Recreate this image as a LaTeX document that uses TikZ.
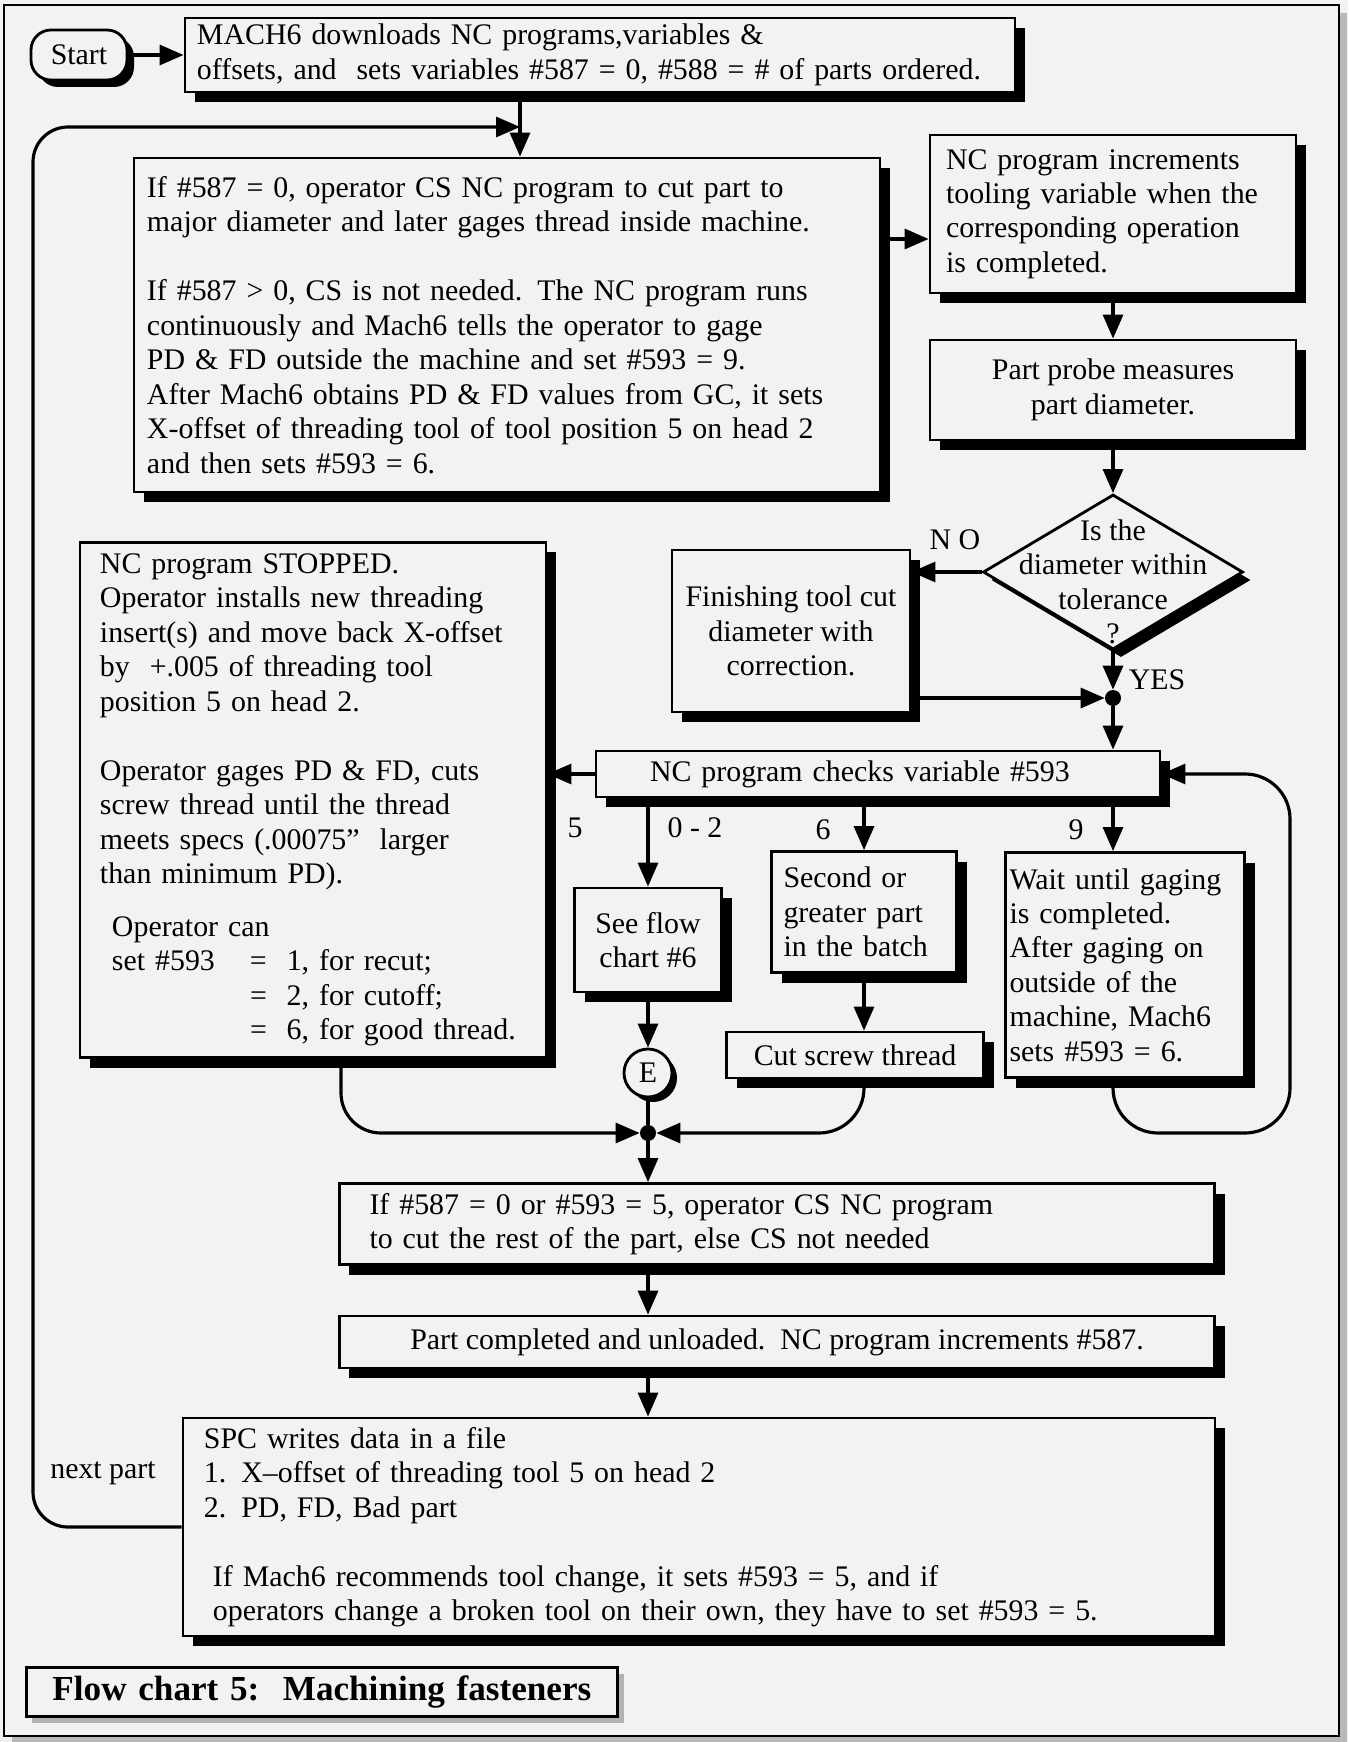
\documentclass[tikz,border=0pt]{standalone}
\usepackage{fontspec}
\setmainfont{Liberation Serif}
\usepackage{xcolor}
\usepackage{tikz}
\usetikzlibrary{shapes.geometric,arrows.meta,shadows}

\definecolor{paper}{gray}{0.95}
\newcommand{\chartfont}{\fontsize{17}{19.6}\selectfont}
\hyphenpenalty=10000

\begin{document}
\begin{tikzpicture}[x=0.2mm, y=-0.2mm,
    every node/.style={font=\chartfont},
    shadowed/.style={drop shadow={shadow xshift=#1, shadow yshift=-#1, fill=black, opacity=1}},
    shadowed/.default=2mm,
    box/.style={rectangle, draw, line width=1.6pt, fill=paper, align=left, shadowed},
    flow/.style={-{Triangle[length=4.8mm, width=4mm]}, line width=1.8pt},
    link/.style={line width=1.8pt},
    junction/.style={circle, fill, inner sep=0pt, minimum size=3.2mm}]

    % Page
    \useasboundingbox (0,0) rectangle (1348,1742);
    \fill[paper] (0,0) rectangle (1348,1742);
    \fill[gray!55] (12,13) rectangle (1347,1742);
    \draw[line width=1.1pt, fill=paper] (4,5) rectangle (1339,1736);

    % Start
    \node[rectangle, rounded corners=4mm, draw, line width=1.6pt, fill=paper, shadowed=1.4mm, minimum width=19.2mm, minimum height=10mm, inner sep=0pt] (start) at (79,55) {Start};

    % Download
    \node[box, text width=161.2mm, inner xsep=2.4mm, minimum height=14.8mm] (download) at (600,55)
        {MACH6 downloads NC programs,variables \&\\offsets, and\ \ sets variables \#587 = 0, \#588 = \# of parts ordered.};

    % Cutting the part
    \node[box, text width=144mm, inner xsep=2.6mm, minimum height=66.8mm] (cutpart) at (507,325)
        {If \#587 = 0, operator CS NC program to cut part to\\
         major diameter and later gages thread inside machine.\\[6.9mm]
         If \#587 > 0, CS is not needed. The NC program runs\\
         continuously and Mach6 tells the operator to gage\\
         PD \& FD outside the machine and set \#593 = 9.\\
         After Mach6 obtains PD \& FD values from GC, it sets\\
         X-offset of threading tool of tool position 5 on head 2\\
         and then sets \#593 = 6.};

    % Tooling and probe
    \node[box, text width=66.8mm, inner xsep=3.2mm, minimum height=31.6mm] (increment) at (1113,214)
        {NC program increments\\tooling variable when the\\corresponding operation\\is completed.};
    \node[box, align=center, minimum width=73.2mm, minimum height=20mm] (probe) at (1113,390)
        {Part probe measures\\part diameter.};

    % Tolerance decision
    \node[diamond, draw, line width=1.6pt, fill=paper, shadowed=1.6mm, minimum width=52mm, minimum height=31mm, inner sep=0pt,
        label={[align=center, yshift=-2mm]center:Is the\\diameter within\\tolerance\\?}] (tolcheck) at (1113,572) {};
    \node (nolabel) at (955,540) {N O};
    \node (yeslabel) at (1157,680) {YES};
    \node[box, align=center, minimum width=47.6mm, minimum height=32.4mm] (finish) at (791,631)
        {Finishing tool cut\\diameter with\\correction.};
    \node[junction] (yesdot) at (1113,698) {};

    % Variable check
    \node[box, text width=91.2mm, inner xsep=10.8mm, minimum height=9.2mm, inner ysep=0pt] (checkvar) at (878,774)
        {NC program checks variable \#593};
    \node (lbfive) at (575,828) {5};
    \node (lbzero) at (695,828) {0 - 2};
    \node (lbsix) at (823,830) {6};
    \node (lbnine) at (1076,830) {9};

    % Branches
    \node[box, text width=85.2mm, inner xsep=4mm, minimum height=103mm] (stopped) at (313,800)
        {NC program STOPPED.\\
         Operator installs new threading\\
         insert(s) and move back X-offset\\
         by\ \ +.005 of threading tool\\
         position 5 on head 2.\\[6.9mm]
         Operator gages PD \& FD, cuts\\
         screw thread until the thread\\
         meets specs (.00075"\ \ larger\\
         than minimum PD).\\[3.7mm]
         \hspace*{2.4mm}Operator can\\
         \hspace*{2.4mm}\makebox[27.6mm][l]{set \#593}=\ \ 1, for recut;\\
         \hspace*{30mm}=\ \ 2, for cutoff;\\
         \hspace*{30mm}=\ \ 6, for good thread.};
    \node[box, align=center, minimum width=29.4mm, minimum height=20.8mm] (seechart) at (648,940)
        {See flow\\chart \#6};
    \node[circle, draw, line width=1.6pt, fill=paper, shadowed=1mm, minimum size=9.6mm, inner sep=0pt] (endE) at (648,1073) {E};
    \node[box, text width=32.2mm, inner xsep=2.4mm, minimum height=24.2mm] (second) at (864,912)
        {Second or\\greater part\\in the batch};
    \node[box, align=center, minimum width=51.4mm, minimum height=9.2mm, inner ysep=0pt] (cutthread) at (855,1055)
        {Cut screw thread};
    \node[box, text width=46.2mm, inner xsep=0.8mm, minimum height=45mm] (waitgage) at (1125,965)
        {Wait until gaging\\is completed.\\After gaging on\\outside of the\\machine, Mach6\\sets \#593 = 6.};
    \node[junction] (mergedot) at (648,1133) {};

    % Finishing the part
    \node[box, text width=163mm, inner xsep=6mm, minimum height=16.2mm] (restcut) at (777,1224)
        {If \#587 = 0 or \#593 = 5, operator CS NC program\\to cut the rest of the part, else CS not needed};
    \node[box, align=center, minimum width=175mm, minimum height=10.4mm, inner ysep=0pt] (complete) at (777,1342)
        {Part completed and unloaded.\ \ NC program increments \#587.};
    \node[box, text width=198mm, inner xsep=4.2mm, minimum height=43.6mm] (spcdata) at (699,1527)
        {SPC writes data in a file\\
         1. X--offset of threading tool 5 on head 2\\
         2. PD, FD, Bad part\\[6.9mm]
         \hspace*{1.8mm}If Mach6 recommends tool change, it sets \#593 = 5, and if\\
         \hspace*{1.8mm}operators change a broken tool on their own, they have to set \#593 = 5.};
    \node (nextlabel) at (103,1473) {next part};

    % Title
    \node[rectangle, draw, line width=1.2pt, fill=paper, drop shadow={shadow xshift=1.2mm, shadow yshift=-1.2mm, fill=gray!60, opacity=1},
        text width=107.8mm, inner xsep=5.2mm, minimum height=9.8mm, align=left, font=\fontsize{20}{22}\selectfont\bfseries] (title) at (322,1692)
        {Flow chart 5:\ \ Machining fasteners};

    % Helper points
    \coordinate (loopjoin) at (520,127);
    \coordinate (loopcorner) at (33,127);
    \coordinate (loopturn) at (1290,1133);
    \coordinate (incin) at ([yshift=-5mm]increment.west);

    % Arrows
    \draw[flow] (start) -- (download);
    \draw[flow] (download.south -| loopjoin) -- (cutpart.north -| loopjoin);
    \draw[flow] (cutpart.east |- incin) -- (incin);
    \draw[flow] (increment) -- (probe);
    \draw[flow] (probe) -- (tolcheck);
    \draw[flow] (tolcheck.west) -- (tolcheck.west -| finish.east);
    \draw[flow] (tolcheck) -- (yesdot);
    \draw[flow] (finish.east |- yesdot) -- (yesdot);
    \draw[flow] (yesdot) -- (checkvar.north -| yesdot);
    \draw[flow] (checkvar.west) -- (checkvar.west -| stopped.east);
    \draw[flow] (checkvar.south -| seechart) -- (seechart);
    \draw[flow] (checkvar.south -| second) -- (second);
    \draw[flow] (checkvar.south -| yesdot) -- (waitgage.north -| yesdot);
    \draw[flow] (seechart) -- (endE);
    \draw[link] (endE) -- (mergedot);
    \draw[flow] (second) -- (second |- cutthread.north);
    \draw[flow, rounded corners=8mm] ([xshift=5.6mm]stopped.south) |- (mergedot);
    \draw[flow, rounded corners=9mm] (cutthread.south -| second) |- (mergedot);
    \draw[flow, rounded corners=9mm] (waitgage.south -| yesdot) |- (loopturn) |- (checkvar.east);
    \draw[flow] (mergedot) -- (restcut.north -| mergedot);
    \draw[flow] (restcut.south -| mergedot) -- (complete.north -| mergedot);
    \draw[flow] (complete.south -| mergedot) -- (spcdata.north -| mergedot);
    \draw[flow, rounded corners=7mm] (spcdata.west) -| (loopcorner) -- (loopjoin);
\end{tikzpicture}
\end{document}
